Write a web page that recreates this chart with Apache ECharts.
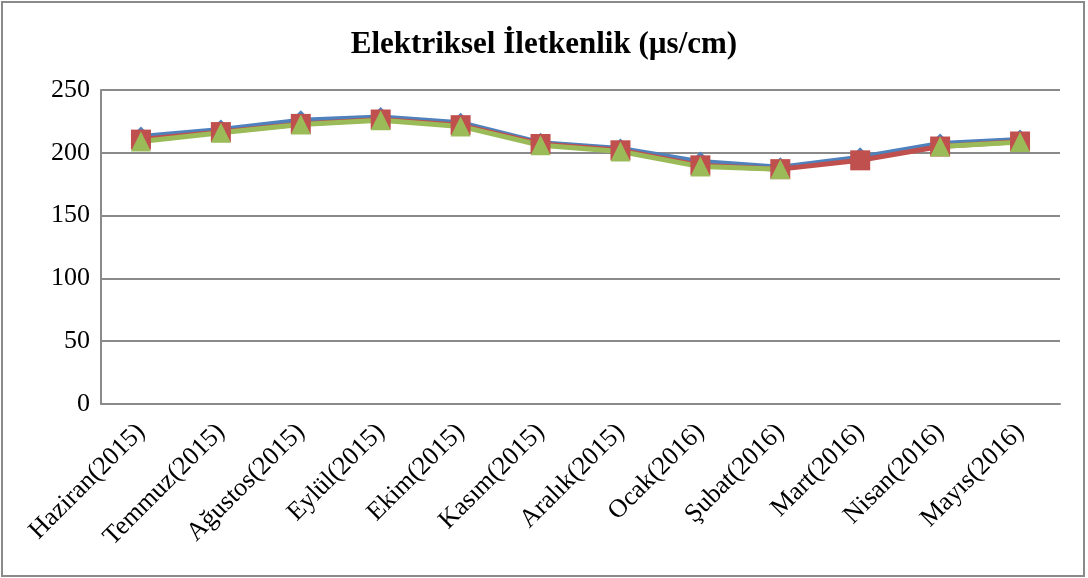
<!DOCTYPE html>
<html>
<head>
<meta charset="utf-8">
<style>
  html, body { margin: 0; padding: 0; background: #ffffff; }
  #chart { width: 1088px; height: 578px; }
</style>
<script src="https://cdn.jsdelivr.net/npm/echarts@6/dist/echarts.min.js"></script>
</head>
<body>
<div id="chart"></div>
<script>
// Monthly electrical conductivity readings, three measurement series
const months = [
  'Haziran(2015)', 'Temmuz(2015)', 'Ağustos(2015)', 'Eylül(2015)',
  'Ekim(2015)', 'Kasım(2015)', 'Aralık(2015)', 'Ocak(2016)',
  'Şubat(2016)', 'Mart(2016)', 'Nisan(2016)', 'Mayıs(2016)'
];
const seriesBlue  = [213, 218.5, 226, 228.5, 224, 208, 203.5, 193, 188.5, 196.5, 207.5, 210.5];
const seriesRed   = [210.5, 216.5, 223, 226.5, 222, 207, 202, 190, 187, 194, 205, 209];
const seriesGreen = [209, 216, 222.5, 226, 221, 206, 201, 189, 187, null, 205, 208.5];
const yTicks = [0, 50, 100, 150, 200, 250];

const FONT = '"Liberation Serif", "DejaVu Serif", serif';

function lineSeries(name, data, color, symbol) {
  return {
    name: name,
    type: 'line',
    data: data,
    connectNulls: false,
    symbol: symbol,
    symbolSize: 20,
    lineStyle: { color: color, width: 5 },
    itemStyle: { color: color, borderWidth: 0 },
    emphasis: { disabled: true },
    animation: false
  };
}

const chart = echarts.init(document.getElementById('chart'), null, { renderer: 'canvas' });
chart.setOption({
  backgroundColor: '#ffffff',
  animation: false,
  title: {
    text: 'Elektriksel İletkenlik (µs/cm)',
    left: 'center',
    top: 24,
    textStyle: { fontFamily: FONT, fontSize: 31, fontWeight: 'bold', color: '#000000' }
  },
  graphic: [{
    type: 'rect',
    shape: { x: 2, y: 2, width: 1082, height: 574 },
    style: { fill: 'none', stroke: '#8a8a8a', lineWidth: 2 },
    silent: true
  }],
  grid: { left: 101, right: 28, top: 90, bottom: 174, containLabel: false },
  xAxis: {
    type: 'category',
    data: months,
    boundaryGap: true,
    axisLine: { show: true, lineStyle: { color: '#8a8a8a', width: 2 } },
    axisTick: { show: false },
    axisLabel: {
      rotate: 45,
      interval: 0,
      margin: 24,
      fontFamily: FONT,
      fontSize: 26,
      color: '#000000'
    }
  },
  yAxis: {
    type: 'value',
    min: yTicks[0],
    max: yTicks[yTicks.length - 1],
    interval: 50,
    axisLine: { show: true, lineStyle: { color: '#8a8a8a', width: 2 } },
    axisTick: { show: false },
    splitLine: { show: true, lineStyle: { color: '#8a8a8a', width: 2 } },
    axisLabel: {
      margin: 11,
      fontFamily: FONT,
      fontSize: 26,
      color: '#000000'
    }
  },
  series: [
    lineSeries('1', seriesBlue, '#4F81BD', 'diamond'),
    lineSeries('2', seriesRed, '#C0504D', 'rect'),
    lineSeries('3', seriesGreen, '#9BBB59', 'triangle')
  ]
});
</script>
</body>
</html>
